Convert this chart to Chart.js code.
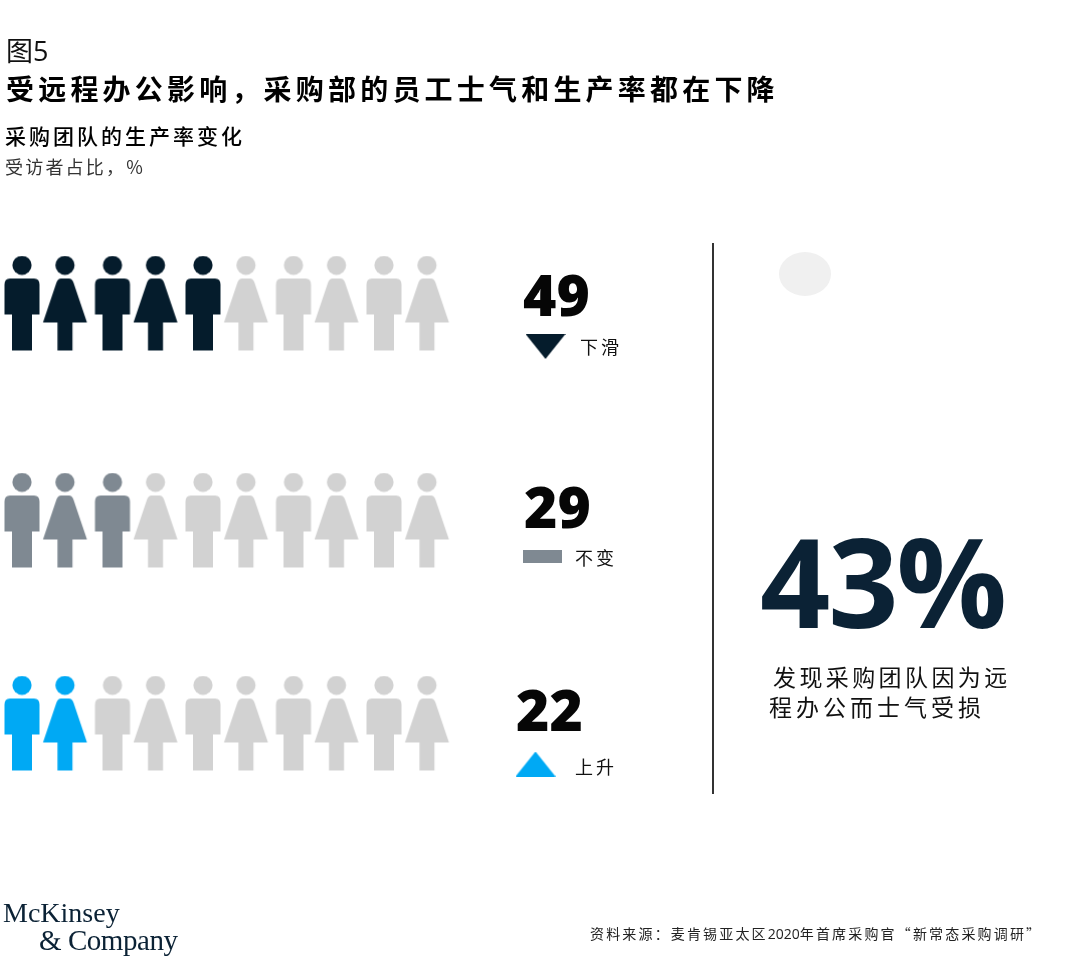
<!DOCTYPE html>
<html lang="zh-CN">
<head>
<meta charset="utf-8">
<title>图5</title>
<script src="https://cdn.jsdelivr.net/npm/chart.js@4/dist/chart.umd.min.js"></script>
<style>
html,body{margin:0;padding:0;background:#fff;}
#stage{position:relative;width:1080px;height:972px;overflow:hidden;background:#fff;}
canvas{position:absolute;left:0;top:0;}
.t{position:absolute;white-space:nowrap;line-height:1;font-family:"Noto Sans CJK SC",sans-serif;color:#111;}
.num{font-family:"Open Sans",sans-serif;font-weight:800;color:#060606;}
</style>
</head>
<body>
<div id="stage">
  <div style="position:absolute;left:779px;top:252px;width:52px;height:44px;border-radius:50%;background:#f0f0f0"></div>
  <div style="position:absolute;left:712px;top:243px;width:2px;height:551px;background:#333"></div>
  <canvas id="c" width="1080" height="972"></canvas>

  <div class="t" style="left:6px;top:36px;font-size:27px;font-weight:400;">图<span style="font-family:'Open Sans';">5</span></div>
  <div class="t" style="left:6px;top:74px;font-size:28px;font-weight:700;letter-spacing:4.2px;color:#000;">受远程办公影响，采购部的员工士气和生产率都在下降</div>
  <div class="t" style="left:5px;top:125px;font-size:21px;font-weight:500;letter-spacing:3px;color:#000;">采购团队的生产率变化</div>
  <div class="t" style="left:5px;top:157px;font-size:18px;font-weight:400;letter-spacing:2.2px;color:#333;">受访者占比，%</div>

  <div class="t" id="bigStat" style="left:760px;top:519px;font-family:'Open Sans',sans-serif;font-weight:700;font-size:123px;letter-spacing:-2.2px;color:#0b2235;"></div>
  <div class="t" style="left:773px;top:665px;font-size:23px;letter-spacing:3.4px;">发现采购团队因为远</div>
  <div class="t" style="left:769px;top:695px;font-size:23px;letter-spacing:4px;">程办公而士气受损</div>

  <div class="t" style="left:3px;top:899px;font-family:'Liberation Serif',serif;font-size:28px;color:#0b2235;">McKinsey</div>
  <div class="t" style="left:39px;top:926px;font-family:'Liberation Serif',serif;font-size:29px;letter-spacing:-0.45px;color:#0b2235;">&amp; Company</div>
  <div class="t" style="left:590px;top:926px;font-size:14px;letter-spacing:2.16px;color:#222;">资料来源：麦肯锡亚太区<span style="font-family:'Open Sans';letter-spacing:0;">2020</span>年首席采购官“新常态采购调研”</div>
</div>
<script>
// ---- chart data ----
const categories = ['下滑', '不变', '上升'];
const values = [49, 29, 22];
const headlineValue = 43;
const iconSlots = [0, 1, 2, 3, 4, 5, 6, 7, 8, 9];
const seriesColors = ['#051c2c', '#7f8992', '#00a9f4'];
const emptyColor = '#d2d2d2';
const markerShapes = ['down', 'flat', 'up'];

// ---- layout (scale ranges and text placement) ----
const W = 1080, H = 972;
const slotWidth = 45.25, firstSlot = 22;
const rowCentres = [303.5, 520.5, 723.5];
const markerOffsets = [[545.5, 43], [542.5, 35.5], [535.5, 40.5]];
const labelBoxes = [[580, 337], [575, 548], [575, 757]];
const numberBoxes = [[523, 266], [524, 478], [516, 681]];

function sprite(w, h, draw) {
  const cv = document.createElement('canvas');
  cv.width = w; cv.height = h;
  draw(cv.getContext('2d'));
  return cv;
}
function personSprite(isWoman, color) {
  return sprite(56, 96, g => {
    g.fillStyle = color;
    // the woman's slot sits 2px left of the even grid
    const cx = isWoman ? 25.75 : 28;
    g.beginPath(); g.arc(cx, 9.8, 9.6, 0, Math.PI * 2); g.fill();
    g.beginPath();
    if (isWoman) {
      g.moveTo(cx - 4, 23);
      g.lineTo(cx + 4, 23);
      g.quadraticCurveTo(cx + 7, 23, cx + 8.5, 27);
      g.lineTo(cx + 22, 67);
      g.lineTo(cx + 7.5, 67);
      g.lineTo(cx + 7.5, 95);
      g.lineTo(cx - 7.5, 95);
      g.lineTo(cx - 7.5, 67);
      g.lineTo(cx - 22, 67);
      g.lineTo(cx - 8.5, 27);
      g.quadraticCurveTo(cx - 7, 23, cx - 4, 23);
    } else {
      g.moveTo(cx - 12, 23);
      g.lineTo(cx + 12, 23);
      g.quadraticCurveTo(cx + 17.5, 23, cx + 17.5, 29);
      g.lineTo(cx + 17.5, 59);
      g.lineTo(cx + 10, 59);
      g.lineTo(cx + 10, 95);
      g.lineTo(cx - 10, 95);
      g.lineTo(cx - 10, 59);
      g.lineTo(cx - 17.5, 59);
      g.lineTo(cx - 17.5, 29);
      g.quadraticCurveTo(cx - 17.5, 23, cx - 12, 23);
    }
    g.closePath(); g.fill();
  });
}
function markerSprite(shape, color) {
  if (shape === 'flat') return sprite(39, 13, g => { g.fillStyle = color; g.fillRect(0, 0, 39, 13); });
  return sprite(40, 25, g => {
    g.fillStyle = color;
    g.beginPath();
    if (shape === 'down') { g.moveTo(0, 0); g.lineTo(40, 0); g.lineTo(20, 25); }
    else { g.moveTo(20, 0); g.lineTo(40, 25); g.lineTo(0, 25); }
    g.closePath(); g.fill();
  });
}

const personDatasets = categories.map((name, r) => {
  const filled = Math.round(values[r] / 10);
  return {
    label: name,
    yAxisID: 'y' + r,
    data: iconSlots.map(s => ({ x: s, y: 0 })),
    pointRadius: 10,
    pointStyle: iconSlots.map(s => personSprite(s % 2 === 1, s < filled ? seriesColors[r] : emptyColor))
  };
});
const markerDatasets = categories.map((name, r) => ({
  label: name + ' 标记',
  yAxisID: 'y' + r,
  data: [{ x: (markerOffsets[r][0] - firstSlot) / slotWidth, y: markerOffsets[r][1] }],
  pointRadius: 10,
  pointStyle: [markerSprite(markerShapes[r], seriesColors[r])]
}));

const scales = {
  x: { type: 'linear', display: false, min: -firstSlot / slotWidth, max: (W - firstSlot) / slotWidth }
};
rowCentres.forEach((c, r) => {
  scales['y' + r] = { type: 'linear', display: false, reverse: true, min: -c, max: H - c };
});

new Chart(document.getElementById('c'), {
  type: 'scatter',
  data: { datasets: personDatasets.concat(markerDatasets) },
  options: {
    responsive: false,
    animation: false,
    devicePixelRatio: 1,
    layout: { padding: 0, autoPadding: false },
    scales,
    plugins: { legend: { display: false }, tooltip: { enabled: false }, title: { display: false } },
    events: []
  }
});

// ---- text fed from the data arrays ----
const stage = document.getElementById('stage');
categories.forEach((name, r) => {
  const n = document.createElement('div');
  n.className = 't num';
  n.textContent = values[r];
  n.style.cssText = `left:${numberBoxes[r][0]}px;top:${numberBoxes[r][1]}px;font-size:57px;`;
  stage.appendChild(n);
  const l = document.createElement('div');
  l.className = 't';
  l.textContent = name;
  l.style.cssText = `left:${labelBoxes[r][0]}px;top:${labelBoxes[r][1]}px;font-size:18px;letter-spacing:3px;`;
  stage.appendChild(l);
});
document.getElementById('bigStat').textContent = headlineValue + '%';
</script>
</body>
</html>
